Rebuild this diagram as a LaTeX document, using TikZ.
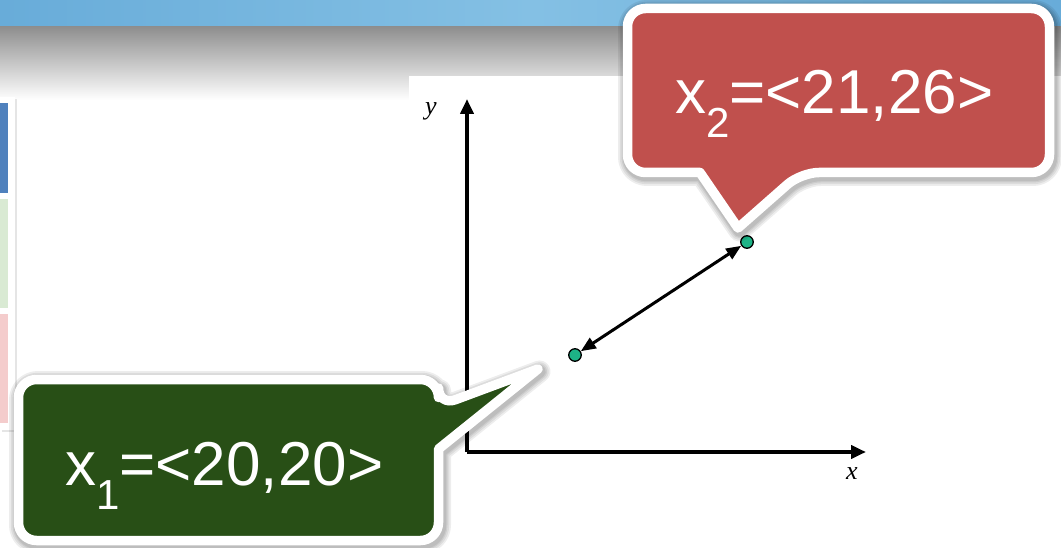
\documentclass[tikz,border=0pt]{standalone}
\usepackage{fontspec}
\setmainfont{Liberation Sans}
\newfontfamily\axserif{Liberation Serif}
\usetikzlibrary{arrows.meta}
\definecolor{bandblue}{HTML}{68ACD9}
\definecolor{bandblue2}{HTML}{84C0E4}
\definecolor{calred}{HTML}{C0504D}
\definecolor{calgreen}{HTML}{284F16}
\definecolor{stripblue}{HTML}{4F81BD}
\definecolor{stripgreen}{HTML}{D9EAD3}
\definecolor{strippink}{HTML}{F4CCCC}
\definecolor{dotgreen}{HTML}{1DB386}
\newcommand\calfont{\fontsize{62}{62}\selectfont}
\newcommand\calsub[1]{\raisebox{-24pt}{\fontsize{42}{42}\selectfont #1}}
\tikzset{
  callout/.style={line width=9.5pt, draw=white, line join=round, rounded corners=18pt},
  calshadow/.style={line width=#1, draw=black, opacity=0.07, line join=round, rounded corners=18pt},
  caltext/.style={anchor=base west, inner sep=0pt, text=white, font=\calfont},
  axis/.style={line width=3.8pt, -{Triangle[length=15pt,width=13pt]}},
  axlabel/.style={font=\fontsize{26}{26}\selectfont\axserif\itshape, inner sep=0pt},
  ptdot/.style={circle, fill=dotgreen, draw=black, line width=1.3pt, minimum size=12.5pt, inner sep=0pt},
  dist/.style={line width=3pt, {Triangle[length=15pt,width=12pt]}-{Triangle[length=15pt,width=12pt]}}
}
\newcommand\redpath{(627.5,8.5) -- (1049.5,8.5) -- (1049.5,172.5) -- (801,172.5) [sharp corners] -- (738,228) -- (700,172.5) [rounded corners=18pt] -- (627.5,172.5) -- cycle}
\newcommand\greenpath{(18.5,379.5) -- (438.5,379.5) -- (438.5,406) [sharp corners] -- (538,369) -- (438.5,449) [rounded corners=18pt] -- (438.5,540.5) -- (18.5,540.5) -- cycle}
\begin{document}
\begin{tikzpicture}[x=1pt,y=-1pt]
\useasboundingbox (0,0) rectangle (1061,548);
\fill[white] (0,0) rectangle (1061,548);
% top band
\shade[left color=bandblue, right color=bandblue, middle color=bandblue2] (0,0) rectangle (1061,28);
\shade[top color=black!44, bottom color=white] (0,27) rectangle (1061,100);
% graph panel
\fill[white] (409,76) rectangle (1061,548);
% left panel with strips
\fill[black!10] (2,99) rectangle (17,432);
\fill[white] (0,97) rectangle (15,430);
\fill[stripblue] (0,103) rectangle (8,193);
\fill[stripgreen] (0,199) rectangle (8,308);
\fill[strippink] (0,314) rectangle (8,423);
% axes
\coordinate (o) at (467,452);
\coordinate (ytop) at (467,99);
\coordinate (xend) at (866,452);
\draw[axis] (o) -- (ytop);
\draw[axis] (o) -- (xend);
\node[axlabel] (ylab) at (431,111) {y};
\node[axlabel] (xlab) at (852,474) {x};
% points
\node[ptdot] (p1) at (575,355) {};
\node[ptdot] (p2) at (747,242) {};
\draw[dist] (p1) -- (p2);
% red callout
\begin{scope}[shift={(1.5,2.5)}]
\foreach \w in {22pt,18.5pt,15pt,12.5pt}{\path[calshadow=\w] \redpath;}
\end{scope}
\path[callout, fill=calred] \redpath;
\node[caltext] (t2) at (675,114) {x\calsub{2}=<21,26>};
% green callout
\begin{scope}[shift={(1.5,2.5)}]
\foreach \w in {22pt,18.5pt,15pt,12.5pt}{\path[calshadow=\w] \greenpath;}
\end{scope}
\path[callout, fill=calgreen] \greenpath;
\node[caltext] (t1) at (65,485) {x\calsub{1}=<20,20>};
\end{tikzpicture}
\end{document}
